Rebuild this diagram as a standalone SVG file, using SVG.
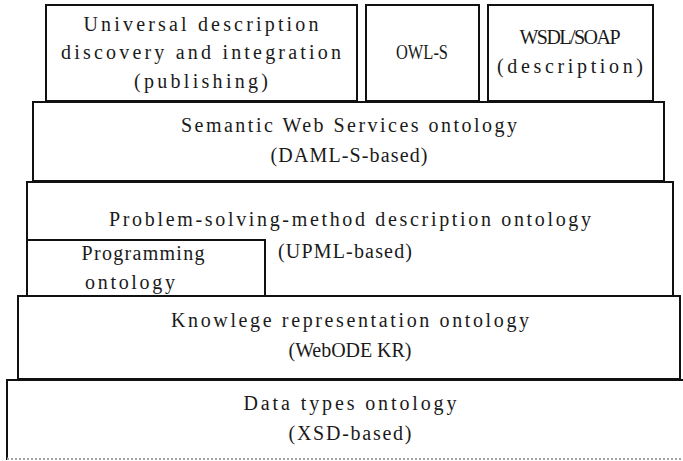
<svg xmlns="http://www.w3.org/2000/svg" width="683" height="461" viewBox="0 0 683 461">
<style>
.box{fill:#fff;stroke:#111;stroke-width:2}
.t{font-family:"Liberation Serif","DejaVu Serif",serif;font-size:20px;fill:#1a1a1a;text-anchor:middle}
.s{text-anchor:start}
</style>
<rect width="683" height="461" fill="#fff"/>
<g id="datatypes">
<rect class="box" x="7" y="380" width="690" height="79"/>
<line x1="7" y1="459" x2="683" y2="459" stroke="#fff" stroke-width="2.5"/>
<line x1="7" y1="459" x2="683" y2="459" stroke="#888" stroke-width="1.5" stroke-dasharray="2 2"/>
<text class="t" x="350" y="410" textLength="213" lengthAdjust="spacing">Data types ontology</text>
<text class="t" x="350" y="440" textLength="123" lengthAdjust="spacing">(XSD-based)</text>
</g>
<g id="knowledge">
<rect class="box" x="18" y="296" width="662" height="83"/>
<text class="t" x="350" y="327" textLength="358" lengthAdjust="spacing">Knowlege representation ontology</text>
<text class="t" x="350" y="357" textLength="123" lengthAdjust="spacing">(WebODE KR)</text>
</g>
<g id="psm">
<rect class="box" x="27" y="182" width="646" height="114"/>
<text class="t" x="350" y="226" textLength="482" lengthAdjust="spacing">Problem-solving-method description ontology</text>
<text class="t s" x="278" y="258" textLength="134" lengthAdjust="spacing">(UPML-based)</text>
</g>
<g id="programming">
<rect class="box" x="27" y="240" width="238" height="56"/>
<text class="t" x="143" y="260" textLength="123" lengthAdjust="spacing">Programming</text>
<text class="t" x="130" y="289" textLength="90" lengthAdjust="spacing">ontology</text>
</g>
<g id="sws">
<rect class="box" x="33" y="102" width="631" height="79"/>
<text class="t" x="349" y="132" textLength="336" lengthAdjust="spacing">Semantic Web Services ontology</text>
<text class="t" x="349" y="162" textLength="157" lengthAdjust="spacing">(DAML-S-based)</text>
</g>
<g id="uddi">
<rect class="box" x="46" y="5" width="311" height="96"/>
<text class="t" x="201" y="31" textLength="235" lengthAdjust="spacing">Universal description</text>
<text class="t" x="201" y="59" textLength="280" lengthAdjust="spacing">discovery and integration</text>
<text class="t" x="201" y="88" textLength="134" lengthAdjust="spacing">(publishing)</text>
</g>
<g id="owls">
<rect class="box" x="366" y="5" width="113" height="96"/>
<text class="t" x="422" y="59" textLength="52" lengthAdjust="spacingAndGlyphs">OWL-S</text>
</g>
<g id="wsdl">
<rect class="box" x="488" y="5" width="165" height="96"/>
<text class="t" x="570" y="44" textLength="101" lengthAdjust="spacing">WSDL/SOAP</text>
<text class="t" x="570" y="73" textLength="146" lengthAdjust="spacing">(description)</text>
</g>
<g id="connectors"></g>
</svg>
